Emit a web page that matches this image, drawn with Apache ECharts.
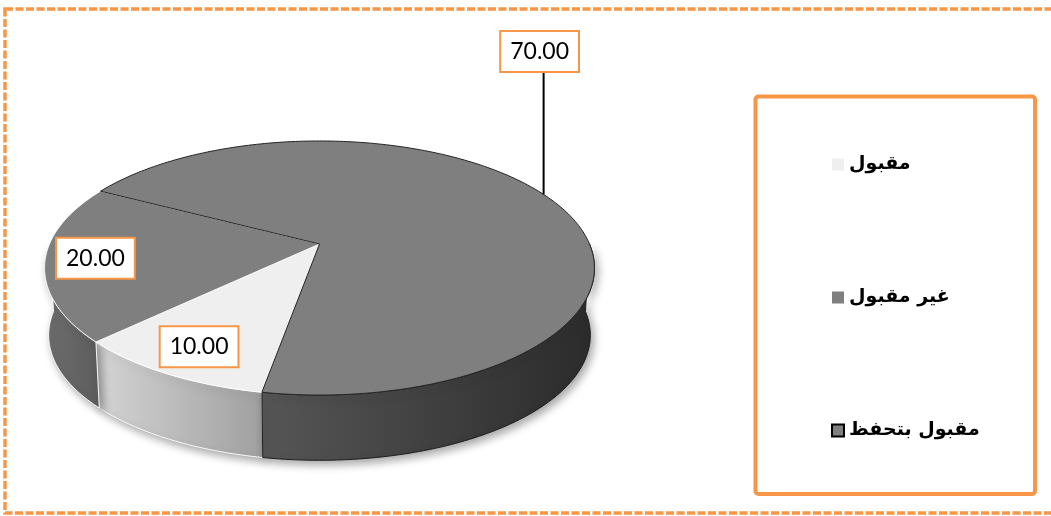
<!DOCTYPE html>
<html><head><meta charset="utf-8">
<script src="https://cdn.jsdelivr.net/npm/echarts@6/dist/echarts.min.js"></script>
<style>html,body{margin:0;padding:0;background:#fff}#c{width:1051px;height:516px}</style>
</head><body><div id="c"></div>
<script>
// ---- data ----
const categories = ['مقبول', 'غير مقبول', 'مقبول بتحفظ'];
const values = [10, 20, 70];
const labelTexts = ['10.00', '20.00', '70.00'];
const firstSliceAngle = 190; // degrees, clockwise from 12 o'clock

// ---- style ----
const ORANGE = '#F79646';
const topColors = ['#EFEFEF', '#7F7F7F', '#7F7F7F'];
const sideColors = [['#D4D4D4', '#A0A0A0'], ['#6E6E6E', '#5C5C5C'], ['#565656', '#2B2B2B']];
const legendColors = ['#EFEFEF', '#7F7F7F', '#7F7F7F'];

// perspective geometry of the pie (screen px)
const X0 = 319.5, Y0 = 244, RA = 270, RB = 122.5, K = 0.189, DEPTH = 67.5, BS = 0.985;

function proj(theta, r, bottom) {
  const t = theta * Math.PI / 180;
  const u = r * Math.sin(t), v = -r * Math.cos(t);
  const w = 1 - K * v;
  const s = bottom ? BS : 1;
  return [X0 + s * RA * u / w, Y0 + (bottom ? DEPTH : 0) + s * RB * v / w];
}
function arc(a, b, r, bottom) {
  const pts = [];
  const n = Math.max(2, Math.ceil(Math.abs(b - a)));
  for (let i = 0; i <= n; i++) pts.push(proj(a + (b - a) * i / n, r, bottom));
  return pts;
}

function makeRender(idx) {
  return function (params, api) {
    const total = values.reduce((s, x) => s + x, 0);
    let before = 0;
    for (let j = 0; j < idx; j++) before += values[j];
    const val = api.value(0);
    const a = firstSliceAngle + before / total * 360;
    const b = a + val / total * 360;
    const children = [];
    // visible outer wall (front half)
    for (let kk = -1; kk <= 2; kk++) {
      const s = Math.max(a, 90 + 360 * kk), e = Math.min(b, 270 + 360 * kk);
      if (e > s) {
        const pts = arc(s, e, 1, false).concat(arc(e, s, 1, true));
        children.push({
          type: 'polygon', shape: { points: pts }, z2: 1,
          style: {
            fill: new echarts.graphic.LinearGradient(0, 0, 1, 0, [
              { offset: 0, color: sideColors[idx][0] }, { offset: 1, color: sideColors[idx][1] }]),
            stroke: idx === 2 ? '#1E1E1E' : 'rgba(255,255,255,0.9)', lineWidth: 1,
            shadowBlur: 8, shadowColor: 'rgba(0,0,0,0.35)', shadowOffsetX: 3, shadowOffsetY: 4
          }
        });
      }
    }
    // top face
    const topPts = [proj(0, 0, false)].concat(arc(a, b, 1, false));
    children.push({
      type: 'polygon', shape: { points: topPts }, z2: 10 + idx,
      style: { fill: topColors[idx], stroke: idx === 2 ? '#262626' : 'rgba(255,255,255,0.85)', lineWidth: 1 }
    });
    // label
    const mid = (a + b) / 2;
    const boxStyle = {
      text: labelTexts[idx], font: '23px Lato', fill: '#000', align: 'center', verticalAlign: 'middle',
      backgroundColor: '#fff', borderColor: ORANGE, borderWidth: 2, padding: [6, 9, 6, 9], lineHeight: 27
    };
    if (val / total > 0.5) {
      const p = proj(mid, 1, false);
      const ly = p[1] - 143;
      children.push({ type: 'line', z2: 50, shape: { x1: p[0], y1: p[1], x2: p[0], y2: ly + 21 }, style: { stroke: '#000', lineWidth: 2 } });
      children.push({ type: 'text', z2: 60, x: p[0] - 4, y: ly, style: boxStyle });
    } else {
      const p = proj(mid, 0.82, false);
      children.push({ type: 'text', z2: 60, x: p[0], y: p[1], style: boxStyle });
    }
    return { type: 'group', children: children };
  };
}

const chart = echarts.init(document.getElementById('c'), null, { renderer: 'canvas' });
chart.setOption({
  animation: false,
  backgroundColor: '#fff',
  legend: {
    orient: 'vertical', left: 826, top: 150, itemWidth: 12, itemHeight: 12, itemGap: 114,
    icon: 'rect', selectedMode: false,
    textStyle: { fontFamily: 'DejaVu Sans', fontWeight: 'bold', fontSize: 19, color: '#000' },
    data: [
      { name: categories[0] },
      { name: categories[1] },
      { name: categories[2], itemStyle: { borderColor: '#000', borderWidth: 2 } }
    ]
  },
  graphic: [
    { type: 'rect', silent: true, z: 0, shape: { x: 5, y: 9, width: 1080, height: 504 },
      style: { fill: 'none', stroke: ORANGE, lineWidth: 3.5, lineDash: [8, 2.5] } },
    { type: 'rect', silent: true, z: 0, shape: { x: 755.5, y: 96.5, width: 279.5, height: 397.5, r: 3 },
      style: { fill: 'none', stroke: ORANGE, lineWidth: 4 } }
  ],
  series: categories.map((name, i) => ({
    type: 'custom', name: name, coordinateSystem: 'none',
    itemStyle: { color: legendColors[i] },
    renderItem: makeRender(i),
    data: [[values[i]]]
  }))
});
</script></body></html>
